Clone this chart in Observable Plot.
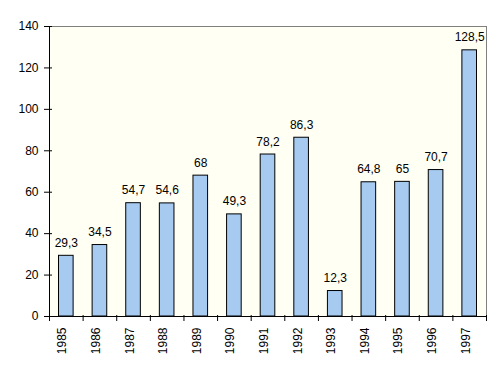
<!DOCTYPE html>
<html>
<head>
<meta charset="utf-8">
<script src="https://cdn.jsdelivr.net/npm/d3@7"></script>
<script src="https://cdn.jsdelivr.net/npm/@observablehq/plot@0.6"></script>
<style>
  html, body { margin: 0; padding: 0; background: #ffffff; }
  svg { display: block; }
</style>
</head>
<body>
<div id="chart"></div>
<script>
const years = ["1985","1986","1987","1988","1989","1990","1991","1992","1993","1994","1995","1996","1997"];
const values = [29.3, 34.5, 54.7, 54.6, 68, 49.3, 78.2, 86.3, 12.3, 64.8, 65, 70.7, 128.5];
const yTicks = [0, 20, 40, 60, 80, 100, 120, 140];

const data = years.map((year, i) => ({ year, i, value: values[i], label: String(values[i]).replace(".", ",") }));
const boundaries = d3.range(years.length + 1);

const font = "'Liberation Sans', Arial, sans-serif";

const chart = Plot.plot({
  width: 501,
  height: 371,
  marginLeft: 49,
  marginRight: 15,
  marginTop: 26,
  marginBottom: 55,
  style: { fontFamily: font, fontSize: "12px", background: "#ffffff", color: "#000" },
  x: { type: "linear", domain: [0, years.length], axis: null },
  y: { domain: [0, 140], axis: null },
  marks: [
    Plot.frame({ fill: "#FFFFF4", stroke: null }),
    Plot.ruleY([140], { stroke: "#808080" }),
    Plot.ruleX([years.length], { stroke: "#808080" }),
    Plot.rectY(data, { x1: "i", x2: d => d.i + 1, y: "value", fill: "#A6CAF0", stroke: "#000", strokeWidth: 1, insetLeft: 9.5, insetRight: 9.5 }),
    Plot.ruleX([0], { stroke: "#000" }),
    Plot.ruleY([0], { stroke: "#000" }),
    Plot.ruleY(yTicks, { y: d => d, x1: 0, x2: 0, insetLeft: -5, insetRight: -3, stroke: "#000" }),
    Plot.text(yTicks, { y: d => d, frameAnchor: "left", dx: -11, textAnchor: "end", text: d => String(d), fontSize: 12, fill: "#000" }),
    Plot.ruleX(boundaries, { x: d => d, y1: 0, y2: 0, insetTop: -1, insetBottom: -5, stroke: "#000" }),
    Plot.text(data, { x: d => d.i + 0.5, frameAnchor: "bottom", dy: 11, rotate: -90, textAnchor: "end", text: "year", fontSize: 12, fill: "#000" }),
    Plot.text(data, { x: d => d.i + 0.5, y: "value", text: "label", lineAnchor: "bottom", dy: -9, fontSize: 12, fill: "#000" })
  ]
});
document.getElementById("chart").appendChild(chart);
</script>
</body>
</html>
